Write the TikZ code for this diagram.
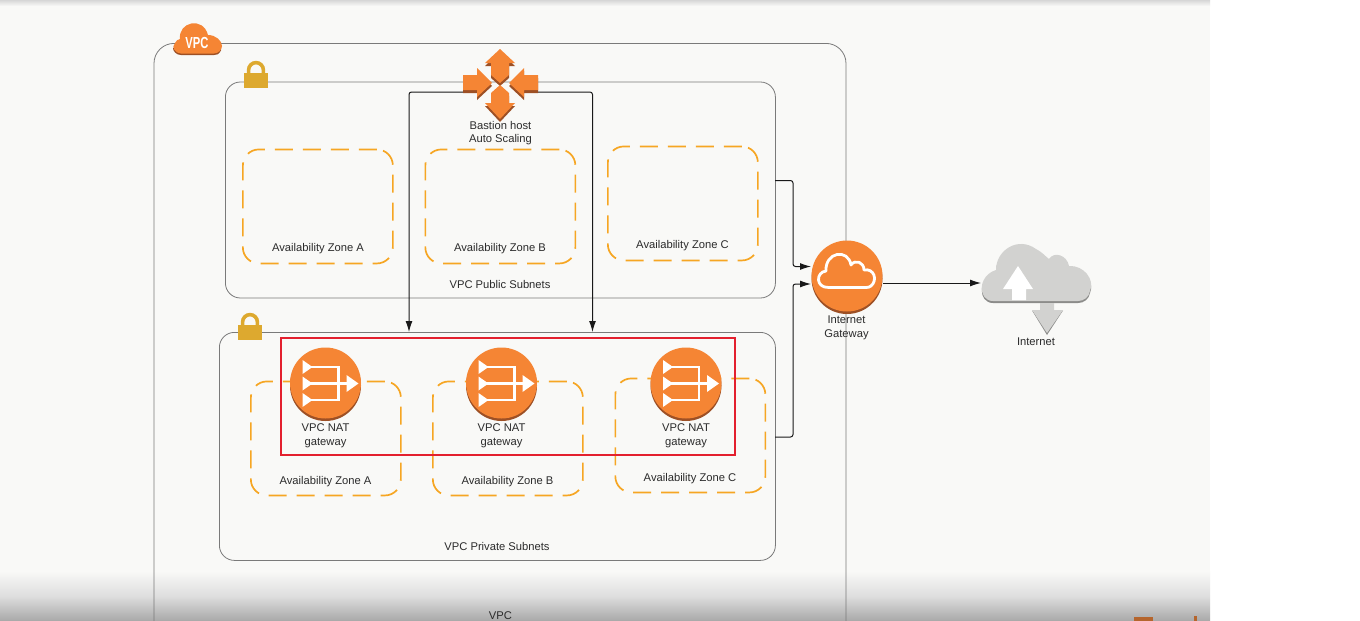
\documentclass[tikz,border=0pt]{standalone}
\usepackage{fontspec}
\setmainfont{Liberation Sans}
\usetikzlibrary{arrows.meta,calc}
\definecolor{paper}{HTML}{F9F9F7}
\definecolor{awsorange}{HTML}{F58534}
\definecolor{awsdark}{HTML}{9D5025}
\definecolor{azdash}{HTML}{F6A623}
\definecolor{lockgold}{HTML}{DDA92F}
\definecolor{linegray}{HTML}{7A7A7A}
\definecolor{highlightred}{HTML}{E3202E}
\definecolor{cloudgray}{HTML}{D2D2D0}
\definecolor{cloudedge}{HTML}{8C8C8A}
\definecolor{txt}{HTML}{2B2B2B}
\definecolor{cutword}{HTML}{B5652D}
\tikzset{
  box/.style={draw=linegray,line width=.8pt,rounded corners=#1,inner sep=0pt,anchor=north west},
  zone/.style={draw=azdash,line width=1.7pt,rounded corners=16pt,dash pattern=on 18pt off 10pt,inner sep=0pt,anchor=north west,minimum width=150pt,minimum height=114pt},
  lbl/.style={font=\fontsize{11.2}{13.6}\selectfont,text=txt,align=center,inner sep=0pt},
  wire/.style={draw=black!90,line width=1pt,rounded corners=2.5pt,-{Latex[length=11pt,width=7pt]}},
  disc/.style={circle,fill=awsorange,minimum size=71pt,inner sep=0pt},
  natline/.style={draw=white,line width=2.4pt},
}
\newcommand{\discshadow}[2]{\fill[awsdark] (#1,#2+2.5) circle (35.5);}
\newcommand{\natglyph}[2]{%
  \begin{scope}[shift={(#1,#2)}]
    \draw[natline] (-16,-16) -- (13,-16) -- (13,17) -- (-16,17);
    \draw[natline] (-16,0.5) -- (22,0.5);
    \fill[white] (-23,-23) -- (-13,-16) -- (-23,-9) -- cycle;
    \fill[white] (-23,-6.5) -- (-13,0.5) -- (-23,7.5) -- cycle;
    \fill[white] (-23,10) -- (-13,17) -- (-23,24) -- cycle;
    \fill[white] (21,-8) -- (33,0.5) -- (21,9) -- cycle;
  \end{scope}}
\newcommand{\lockglyph}[2]{%
  \begin{scope}[shift={(#1,#2)}]
    \draw[lockgold,line width=3.6pt] (-7.4,1) -- (-7.4,-3) arc[start angle=180,end angle=360,radius=7.4] -- (7.4,1);
    \fill[lockgold] (-12,0) rectangle (12,15);
  \end{scope}}
\newcommand{\bastionarrows}{%
  (500,49) -- (515,63) -- (509,63) -- (509,75) -- (500,83) -- (491,75) -- (491,63) -- (485,63) -- cycle
  (500,85) -- (509,93) -- (509,103) -- (515,103) -- (500,119) -- (485,103) -- (491,103) -- (491,93) -- cycle
  (463,75) -- (477,75) -- (477,68) -- (492,83) -- (477,97) -- (477,90) -- (463,90) -- cycle
  (538,75) -- (524,75) -- (524,68) -- (509,83) -- (524,97) -- (524,90) -- (538,90) -- cycle}
\begin{document}
\begin{tikzpicture}[x=1pt,y=-1pt]
\useasboundingbox (0,0) rectangle (1360,621);
\fill[white] (0,0) rectangle (1360,621);
\fill[paper] (0,0) rectangle (1210,621);
\shade[top color=black!16,bottom color=paper] (0,0) rectangle (1210,6);
\shade[top color=paper,bottom color=black!34,middle color=black!13] (0,571) rectangle (1210,621);
\fill[cutword] (1134,617) rectangle (1153,621);
\fill[cutword] (1194,615.5) rectangle (1197,621);

% containers
\node[box=20pt,minimum width=692pt,minimum height=600pt] (vpc) at (153.6,43) {};
\node[box=15pt,minimum width=550pt,minimum height=216pt] (pub) at (225,81.6) {};
\node[box=15pt,minimum width=556pt,minimum height=228pt] (prv) at (219,332) {};

% zones
\node[zone] (pubA) at (242,148.6) {};
\node[zone] (pubB) at (424.5,148.6) {};
\node[zone] (pubC) at (607,145.6) {};
\node[zone] (prvA) at (250,380.6) {};
\node[zone] (prvB) at (432,380.6) {};
\node[zone] (prvC) at (614.5,377.6) {};

% red highlight
\draw[draw=highlightred,line width=2pt] (281,338) rectangle (735,455);

% connector ends
\coordinate (bastL) at (463,92);
\coordinate (bastR) at (538,92);
\coordinate (prvL) at (409,332);
\coordinate (prvR) at (592.5,332);
\coordinate (pubOut) at (775,180.5);
\coordinate (prvOut) at (775,437);
\coordinate (igwIn1) at (811,266.5);
\coordinate (igwIn2) at (811,284);
\coordinate (igwOut) at (883,283);
\coordinate (netIn) at (981,283);

\draw[wire] (bastL) -| (prvL);
\draw[wire] (bastR) -| (prvR);
\draw[wire] (pubOut) -- (793,180.5) -- (793,266.5) -- (igwIn1);
\draw[wire] (prvOut) -- (793,437) -- (793,284) -- (igwIn2);

% NAT gateways
\discshadow{325.5}{383}
\node[disc] (natA) at (325.5,383) {};
\natglyph{325.5}{383}
\discshadow{501.5}{383}
\node[disc] (natB) at (501.5,383) {};
\natglyph{501.5}{383}
\discshadow{686}{383}
\node[disc] (natC) at (686,383) {};
\natglyph{686}{383}

% Internet gateway
\discshadow{847}{276}
\node[disc] (igw) at (847,276) {};
\draw[white,line width=2.8pt,line join=round]
  (829,287.5) .. controls (815,288) and (816,272) .. (826,271)
  .. controls (825,252) and (848,248) .. (851,265)
  .. controls (855,259) and (864,262) .. (864,270)
  .. controls (874,268) and (878,280) .. (871,286)
  .. controls (870,287) and (868,287.5) .. (866,287.5) -- cycle;
\draw[wire] (igwOut) -- (netIn);

% Internet cloud
\begin{scope}
  \def\cloudpath{(993,301) .. controls (978,301) and (977,276) .. (996,270)
    .. controls (996,250) and (1018,236) .. (1036,249)
    .. controls (1042,252) and (1045,256) .. (1049,259)
    .. controls (1054,251) and (1067,255) .. (1069,266)
    .. controls (1084,265) and (1095,280) .. (1090,291)
    .. controls (1089,297) and (1084,301) .. (1078,301) -- cycle}
  \fill[cloudedge] [yshift=-2pt] \cloudpath;
  \fill[cloudgray] \cloudpath;
\end{scope}
\fill[white] (1018,266) -- (1033,289) -- (1026,289) -- (1026,300) -- (1012,300) -- (1012,289) -- (1003,289) -- cycle;
\fill[cloudedge] (1032,310.5) -- (1047,335) -- (1063,310.5) -- (1060,310.5) -- (1047,331) -- (1035,310.5) -- cycle;
\fill[cloudgray] (1040,303) -- (1054,303) -- (1054,310) -- (1063,310) -- (1047,333) -- (1032,310) -- (1040,310) -- cycle;

% Bastion icon
\fill[awsdark,yshift=-3pt] \bastionarrows;
\fill[awsorange] \bastionarrows;

% VPC cloud
\fill[awsdark] (181,45) -- (214,45) .. controls (220,45) and (223,50) .. (220,52)
  .. controls (219,54) and (217,55) .. (214,55) -- (181,55) .. controls (176,55) and (173,51) .. (173,48) -- cycle;
\fill[awsorange] (181,53.5) .. controls (175,53.5) and (171,47) .. (175,43)
  .. controls (176,41) and (178,39) .. (180,39)
  .. controls (178,22) and (203,16) .. (208,35)
  .. controls (216,35) and (222,41) .. (222,46)
  .. controls (222,50) and (218,53.5) .. (214,53.5) -- cycle;
\node[text=white,inner sep=0pt,font=\bfseries\fontsize{16}{16}\selectfont,xscale=.7] (vpcIcon) at (197,43) {VPC};

% locks
\lockglyph{256}{73}
\lockglyph{250}{325}

% labels
\node[lbl] (tBast) at (500.5,133) {Bastion host\\Auto Scaling};
\node[lbl] (tPubA) at (318,249) {Availability Zone A};
\node[lbl] (tPubB) at (500,249) {Availability Zone B};
\node[lbl] (tPubC) at (682.5,246) {Availability Zone C};
\node[lbl] (tPub) at (500,284.5) {VPC Public Subnets};
\node[lbl] (tPrvA) at (325.5,482) {Availability Zone A};
\node[lbl] (tPrvB) at (507.5,482) {Availability Zone B};
\node[lbl] (tPrvC) at (690,479) {Availability Zone C};
\node[lbl] (tPrv) at (497,546.5) {VPC Private Subnets};
\node[lbl] (tNatA) at (325.5,436) {VPC NAT\\gateway};
\node[lbl] (tNatB) at (501.5,436) {VPC NAT\\gateway};
\node[lbl] (tNatC) at (686,436) {VPC NAT\\gateway};
\node[lbl] (tIgw) at (846.5,328) {Internet\\Gateway};
\node[lbl] (tNet) at (1036,341.5) {Internet};
\node[lbl] (tVpc) at (500.5,616) {VPC};
\end{tikzpicture}
\end{document}
